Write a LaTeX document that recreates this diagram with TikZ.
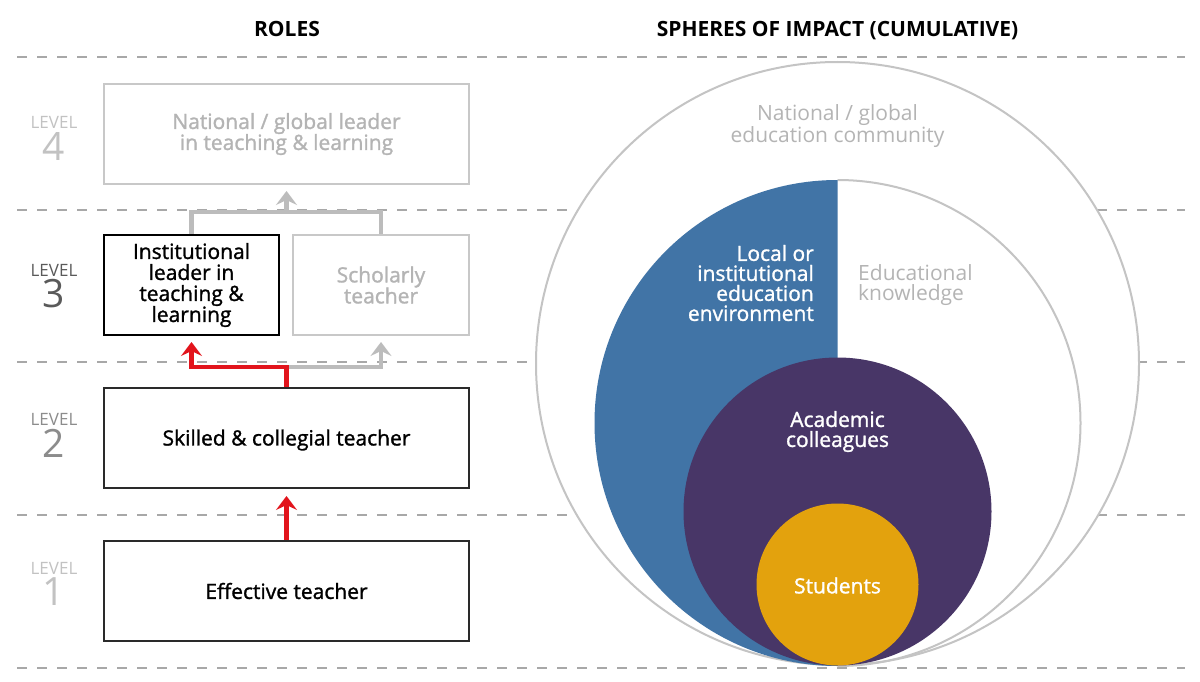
\documentclass[tikz,border=0pt]{standalone}
\usepackage{fontspec}
\setmainfont{Open Sans}
\newfontfamily\semib{Open Sans}[FakeBold=1.3]
\newfontfamily\headfont{Open Sans}
\usetikzlibrary{arrows.meta}
\definecolor{dashgray}{HTML}{A8A8A8}
\definecolor{ringgray}{HTML}{C4C4C4}
\definecolor{lightbox}{HTML}{C8C8C8}
\definecolor{lighttext}{HTML}{B4B4B4}
\definecolor{arrgray}{HTML}{BCBCBC}
\definecolor{arrred}{HTML}{E2141C}
\definecolor{sblue}{HTML}{4174A6}
\definecolor{spurple}{HTML}{483667}
\definecolor{syellow}{HTML}{E3A20D}
\definecolor{lvlA}{HTML}{C2C2C2}
\definecolor{lvlB}{HTML}{5A5A5A}
\definecolor{lvlC}{HTML}{8C8C8C}
\definecolor{darkbox}{HTML}{2A2A2A}
\tikzset{
  boxtext/.style={font=\semib\fontsize{21}{21}\selectfont, align=center, inner sep=0pt},
  rolebox/.style={boxtext, draw, line width=2pt, minimum height=100pt},
  graybox/.style={rolebox, draw=lightbox, text=lighttext},
  blackbox/.style={rolebox, draw=darkbox, text=black},
  lowertext/.style={execute at begin node={\rule{0pt}{#1}}},
  levelword/.style={font=\fontsize{17}{17}\selectfont, inner sep=0pt},
  levelnum/.style={font=\fontsize{39}{39}\selectfont, inner sep=0pt},
  heading/.style={font=\headfont\bfseries\fontsize{21}{21}\selectfont, inner sep=0pt, anchor=base},
  divider/.style={draw=dashgray, line width=1.5pt, dash pattern=on 10pt off 10pt},
  arrline/.style={line width=4.5pt},
  arrtip/.style={-{Stealth[length=14pt,width=21pt,inset=5pt]}, shorten >=6pt},
  circtext/.style={font=\fontsize{21}{20}\selectfont, inner sep=0pt},
  circwhite/.style={circtext, font=\semib\fontsize{21}{20}\selectfont, text=white}
}
\begin{document}
\begin{tikzpicture}[x=1pt,y=-1pt]
\useasboundingbox[fill=white] (0,0) rectangle (1200,682);

% dividers
\foreach \yy in {57,210,362,515,668}
  \draw[divider] (17,\yy) -- (1185,\yy);

% headings
\node[heading] (hroles) at (287,37) {ROLES};
\node[heading] (hspheres) at (837.5,37) {SPHERES OF IMPACT (CUMULATIVE)};

% level labels
\node[levelword, text=lvlA] (lw4) at (54,122) {LEVEL};
\node[levelnum, text=lvlA] (ln4) at (54,147) {4};
\node[levelword, text=lvlB] (lw3) at (54,270) {LEVEL};
\node[levelnum, text=lvlB] (ln3) at (54,294) {3};
\node[levelword, text=lvlC] (lw2) at (54,419) {LEVEL};
\node[levelnum, text=lvlC] (ln2) at (54,443) {2};
\node[levelword, text=lvlA] (lw1) at (54,568) {LEVEL};
\node[levelnum, text=lvlA] (ln1) at (54,592) {1};

% role boxes
\node[graybox, lowertext=23pt, minimum width=365pt] (L4) at (286.5,134) {National / global leader\\in teaching \& learning};
\node[blackbox, draw=black, minimum width=175pt] (L3a) at (191.5,285) {Institutional\\leader in\\teaching \&\\learning};
\node[graybox, minimum width=176pt] (L3b) at (381,285) {Scholarly\\teacher};
\node[blackbox, lowertext=20pt, minimum width=365pt] (L2) at (286.5,438) {Skilled \& collegial teacher};
\node[blackbox, minimum width=365pt] (L1) at (286.5,591) {Effective teacher};

% connectors
\coordinate (j3) at (286.5,212);
\coordinate (j2) at (286.5,367);
\draw[arrline, draw=arrgray] (L3a.north) -- (L3a.north |- j3) -- (L3b.north |- j3) -- (L3b.north);
\draw[arrline, arrtip, draw=arrgray] (j3) -- (L4.south);
\draw[arrline, arrtip, draw=arrgray] (j2) -| (L3b.south);
\draw[arrline, arrtip, draw=arrred] (L2.north) -- (j2) -| (L3a.south);
\draw[arrline, arrtip, draw=arrred, shorten >=7pt] (L1.north) -- (L2.south);

% spheres
\filldraw[fill=white, draw=ringgray, line width=2pt] (837.5,363.5) circle (301.5pt);
\begin{scope}
  \clip (837.5,170) rectangle (1090,680);
  \draw[draw=ringgray, line width=2pt] (837.5,423) circle (243pt);
\end{scope}
\begin{scope}
  \clip (580,170) rectangle (837.5,680);
  \fill[sblue] (837.5,423) circle (243pt);
\end{scope}
\fill[spurple] (837.5,511.5) circle (154pt);
\fill[syellow] (837.5,584.5) circle (81pt);

\node[circtext, align=center, text=lighttext] (tnat) at (837.5,126.5) {National / global\\education community};
\node[circwhite, align=right, anchor=east] (tloc) at (814,283) {Local or\\institutional\\education\\environment};
\node[circtext, align=left, text=lighttext, anchor=west] (tedu) at (858,285.5) {Educational\\knowledge};
\node[circwhite, align=center] (tacad) at (837.5,431.5) {Academic\\colleagues};
\node[circwhite, align=center] (tstud) at (837.5,585.5) {Students};
\end{tikzpicture}
\end{document}
